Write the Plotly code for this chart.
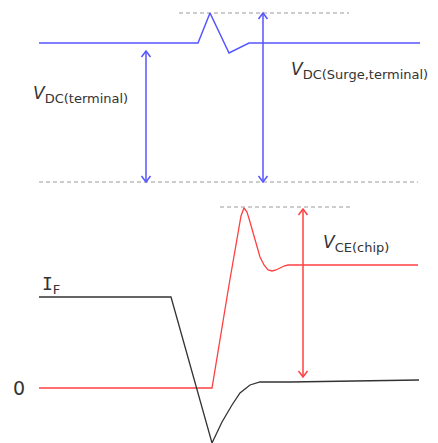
import plotly.graph_objects as go

# waveforms, in picture coordinates (x to the right, y downwards)
vdc_x = [39, 198, 210, 229, 249, 420]
vdc_y = [43, 43, 13, 53, 43, 43]

vce_x = [39, 212, 229, 238, 241, 244, 247, 250, 253, 257, 260, 264, 268, 272, 276, 280, 284, 288, 418]
vce_y = [388, 388, 285, 232, 216, 208, 212, 222, 232, 247, 257, 265, 270, 271, 270, 268, 266, 265, 265]

if_x = [39, 171, 212, 222, 232, 240, 250, 260, 290, 419]
if_y = [297, 297, 443, 422, 405, 393, 385, 382, 382, 380]

# reference levels (dashed) and measurement arrows
dash_x0 = [179, 39, 220]
dash_x1 = [349, 418, 350]
dash_y = [13, 182, 207]

arrow_x = [146, 263, 303]
arrow_top = [51, 13, 209]
arrow_bot = [182, 182, 377]
arrow_col = ["#5555ff", "#5555ff", "#ff4040"]

BLUE = "#5555ff"
RED = "#ff4040"
DARK = "#333333"
GREY = "#9a9a9a"

fig = go.Figure()


def line(x, y, color, width, dash=None):
    fig.add_trace(go.Scatter(x=x, y=y, mode="lines", hoverinfo="skip",
                             line=dict(color=color, width=width, dash=dash)))


for x0, x1, y in zip(dash_x0, dash_x1, dash_y):
    line([x0, x1], [y, y], GREY, 1, "4px,3px")

line(vdc_x, vdc_y, BLUE, 1.5)
line(vce_x, vce_y, RED, 1.3)
line(if_x, if_y, DARK, 1.3)

hw, hh = 4.5, 6
for x, t, b, c in zip(arrow_x, arrow_top, arrow_bot, arrow_col):
    line([x, x], [t, b], c, 1.5)
    line([x - hw, x, x + hw], [t + hh, t, t + hh], c, 1.5)
    line([x - hw, x, x + hw], [b - hh, b, b - hh], c, 1.5)

font = "DejaVu Sans, Verdana, sans-serif"


def label(x, y, main, sub, italic=True, size=17, sub_size=13, main_font=font):
    m = f"<i>{main}</i>" if italic else main
    m = f"<span style='font-family:{main_font}'>{m}</span>"
    s = f"<sub><span style='font-size:{sub_size}px'>{sub}</span></sub>"
    fig.add_annotation(x=x, y=y, xref="x", yref="y", xanchor="left", yanchor="middle",
                       text=m + s, showarrow=False,
                       font=dict(family=font, size=size, color=DARK))


label(31, 94, "V", "DC(terminal)")
label(289, 70, "V", "DC(Surge,terminal)")
label(321, 243, "V", "CE(chip)")
label(40, 285, "I", "F", italic=False, size=18, sub_size=13, main_font="DejaVu Sans Mono")
fig.add_annotation(x=11, y=388, xref="x", yref="y", xanchor="left", yanchor="middle",
                   text="0", showarrow=False, font=dict(family=font, size=19, color=DARK))

fig.update_xaxes(range=[0, 438], visible=False, fixedrange=True)
fig.update_yaxes(range=[443, 0], visible=False, fixedrange=True)
fig.update_layout(width=438, height=443, margin=dict(l=0, r=0, t=0, b=0),
                  showlegend=False, plot_bgcolor="white", paper_bgcolor="white")

fig.write_html("out.html", config={"displayModeBar": False},
               post_script="document.body.style.margin='0';")
